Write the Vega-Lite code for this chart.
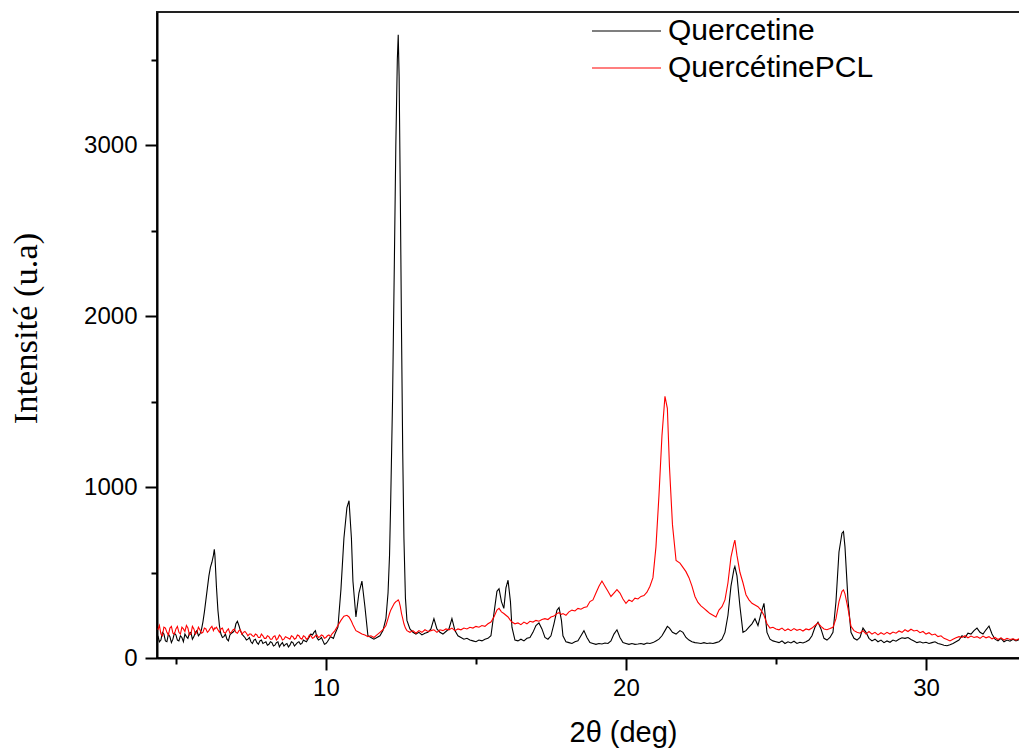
{
"$schema": "https://vega.github.io/schema/vega-lite/v6.json",
"width": 865, "height": 646,
"autosize": {"type": "none"},
"padding": {"left": 157, "top": 12, "right": 0, "bottom": 95},
"background": "white",
"config": {"view": {"stroke": "#222", "strokeWidth": 2}, "font": "Liberation Sans"},
"data": {"values": [
{"x":4.4,"a":130,"b":165},{"x":4.45,"a":95,"b":190},{"x":4.5,"a":105,"b":140},{"x":4.55,"a":150,"b":130},{"x":4.6,"a":140,"b":180},{"x":4.65,"a":100,"b":175},{"x":4.7,"a":95,"b":150},{"x":4.75,"a":140,"b":135},{"x":4.8,"a":125,"b":175},{"x":4.85,"a":90,"b":185},{"x":4.9,"a":110,"b":145},{"x":4.95,"a":145,"b":140},
{"x":5.0,"a":135,"b":170},{"x":5.05,"a":105,"b":185},{"x":5.1,"a":100,"b":150},{"x":5.15,"a":130,"b":140},{"x":5.2,"a":120,"b":180},{"x":5.25,"a":95,"b":170},{"x":5.3,"a":140,"b":155},{"x":5.35,"a":125,"b":190},{"x":5.4,"a":115,"b":175},{"x":5.45,"a":145,"b":135},{"x":5.5,"a":150,"b":140},{"x":5.55,"a":110,"b":185},
{"x":5.6,"a":125,"b":170},{"x":5.65,"a":150,"b":140},{"x":5.7,"a":160,"b":150},{"x":5.75,"a":130,"b":180},{"x":5.8,"a":140,"b":165},{"x":5.85,"a":165,"b":145},{"x":5.9,"a":210,"b":150},{"x":5.95,"a":270,"b":175},{"x":6.0,"a":340,"b":170},{"x":6.05,"a":410,"b":150},{"x":6.1,"a":480,"b":160},{"x":6.15,"a":530,"b":175},
{"x":6.2,"a":560,"b":185},{"x":6.25,"a":600,"b":160},{"x":6.28,"a":635,"b":175},{"x":6.3,"a":600,"b":170},{"x":6.35,"a":420,"b":180},{"x":6.4,"a":280,"b":165},{"x":6.45,"a":190,"b":150},{"x":6.5,"a":140,"b":170},{"x":6.55,"a":120,"b":175},{"x":6.6,"a":125,"b":150},{"x":6.65,"a":140,"b":145},
{"x":6.7,"a":110,"b":160},{"x":6.75,"a":100,"b":170},{"x":6.8,"a":135,"b":145},{"x":6.85,"a":145,"b":150},{"x":6.9,"a":150,"b":165},{"x":6.95,"a":160,"b":170},{"x":7.0,"a":200,"b":150},{"x":7.05,"a":215,"b":145},{"x":7.1,"a":190,"b":160},{"x":7.15,"a":160,"b":165},{"x":7.2,"a":140,"b":140},{"x":7.25,"a":130,"b":150},
{"x":7.3,"a":120,"b":155},{"x":7.35,"a":105,"b":145},{"x":7.4,"a":110,"b":130},{"x":7.45,"a":120,"b":140},{"x":7.5,"a":95,"b":140},{"x":7.55,"a":85,"b":130},{"x":7.6,"a":105,"b":125},{"x":7.65,"a":110,"b":140},{"x":7.7,"a":90,"b":135},{"x":7.75,"a":80,"b":120},{"x":7.8,"a":100,"b":120},{"x":7.85,"a":105,"b":140},
{"x":7.9,"a":85,"b":130},{"x":7.95,"a":90,"b":115},{"x":8.0,"a":95,"b":115},{"x":8.05,"a":75,"b":130},{"x":8.1,"a":80,"b":125},{"x":8.15,"a":95,"b":110},{"x":8.2,"a":90,"b":110},{"x":8.25,"a":70,"b":125},{"x":8.3,"a":75,"b":130},{"x":8.35,"a":90,"b":105},{"x":8.4,"a":95,"b":115},{"x":8.45,"a":65,"b":135},
{"x":8.5,"a":80,"b":125},{"x":8.55,"a":90,"b":105},{"x":8.6,"a":70,"b":110},{"x":8.65,"a":80,"b":125},{"x":8.7,"a":85,"b":120},{"x":8.75,"a":65,"b":115},{"x":8.8,"a":75,"b":110},{"x":8.85,"a":95,"b":130},{"x":8.9,"a":90,"b":125},{"x":8.95,"a":70,"b":110},{"x":9.0,"a":80,"b":115},{"x":9.05,"a":90,"b":135},
{"x":9.1,"a":95,"b":130},{"x":9.15,"a":80,"b":115},{"x":9.2,"a":85,"b":110},{"x":9.25,"a":105,"b":130},{"x":9.3,"a":100,"b":125},{"x":9.35,"a":95,"b":110},{"x":9.4,"a":110,"b":115},{"x":9.45,"a":125,"b":135},{"x":9.5,"a":140,"b":130},{"x":9.55,"a":135,"b":115},{"x":9.6,"a":150,"b":120},{"x":9.65,"a":160,"b":130},
{"x":9.7,"a":120,"b":135},{"x":9.75,"a":105,"b":120},{"x":9.8,"a":110,"b":125},{"x":9.85,"a":120,"b":135},{"x":9.9,"a":100,"b":130},{"x":9.95,"a":80,"b":115},{"x":10.0,"a":85,"b":120},{"x":10.05,"a":95,"b":130},{"x":10.1,"a":110,"b":135},{"x":10.15,"a":125,"b":125},{"x":10.2,"a":120,"b":140},{"x":10.25,"a":115,"b":150},
{"x":10.3,"a":140,"b":160},{"x":10.4,"a":180,"b":190},{"x":10.5,"a":400,"b":220},{"x":10.6,"a":700,"b":245},{"x":10.7,"a":880,"b":250},{"x":10.77,"a":920,"b":240},
{"x":10.85,"a":700,"b":215},{"x":10.9,"a":450,"b":195},{"x":11.0,"a":240,"b":160},{"x":11.1,"a":380,"b":150},{"x":11.2,"a":450,"b":140},{"x":11.3,"a":300,"b":135},
{"x":11.4,"a":130,"b":125},{"x":11.5,"a":120,"b":130},{"x":11.6,"a":110,"b":120},{"x":11.7,"a":120,"b":135},{"x":11.8,"a":130,"b":150},{"x":11.9,"a":160,"b":165},
{"x":12.0,"a":230,"b":190},{"x":12.07,"a":380,"b":230},{"x":12.12,"a":600,"b":260},{"x":12.16,"a":924,"b":280},{"x":12.22,"a":1500,"b":300},{"x":12.28,"a":2300,"b":320},
{"x":12.33,"a":3000,"b":330},{"x":12.38,"a":3500,"b":335},{"x":12.41,"a":3645,"b":340},{"x":12.44,"a":3400,"b":330},{"x":12.48,"a":2700,"b":300},{"x":12.52,"a":1900,"b":260},
{"x":12.56,"a":1200,"b":230},{"x":12.6,"a":700,"b":200},{"x":12.65,"a":350,"b":175},{"x":12.7,"a":220,"b":160},{"x":12.8,"a":170,"b":150},{"x":12.9,"a":150,"b":160},
{"x":13.0,"a":140,"b":145},{"x":13.1,"a":150,"b":160},{"x":13.2,"a":135,"b":150},{"x":13.3,"a":145,"b":165},{"x":13.4,"a":150,"b":155},{"x":13.5,"a":170,"b":160},
{"x":13.6,"a":230,"b":165},{"x":13.7,"a":170,"b":150},{"x":13.8,"a":150,"b":165},{"x":13.9,"a":140,"b":160},{"x":14.0,"a":155,"b":170},{"x":14.1,"a":170,"b":165},
{"x":14.2,"a":230,"b":175},{"x":14.3,"a":160,"b":160},{"x":14.4,"a":130,"b":170},{"x":14.5,"a":120,"b":165},{"x":14.6,"a":110,"b":175},{"x":14.7,"a":115,"b":170},
{"x":14.8,"a":105,"b":180},{"x":14.9,"a":100,"b":175},{"x":15.0,"a":95,"b":185},{"x":15.1,"a":105,"b":180},{"x":15.2,"a":100,"b":190},{"x":15.3,"a":110,"b":185},
{"x":15.4,"a":115,"b":200},{"x":15.5,"a":130,"b":210},{"x":15.6,"a":260,"b":240},{"x":15.7,"a":390,"b":280},{"x":15.77,"a":405,"b":290},{"x":15.85,"a":330,"b":270},
{"x":15.93,"a":290,"b":260},{"x":16.0,"a":410,"b":250},{"x":16.07,"a":455,"b":240},{"x":16.15,"a":330,"b":220},{"x":16.2,"a":180,"b":210},{"x":16.3,"a":105,"b":200},
{"x":16.4,"a":100,"b":205},{"x":16.5,"a":110,"b":195},{"x":16.6,"a":100,"b":210},{"x":16.7,"a":115,"b":200},{"x":16.8,"a":120,"b":215},{"x":16.9,"a":150,"b":210},
{"x":17.0,"a":190,"b":220},{"x":17.1,"a":205,"b":215},{"x":17.2,"a":170,"b":225},{"x":17.3,"a":120,"b":230},{"x":17.4,"a":110,"b":225},{"x":17.5,"a":130,"b":240},
{"x":17.6,"a":200,"b":245},{"x":17.7,"a":280,"b":260},{"x":17.77,"a":295,"b":265},{"x":17.85,"a":220,"b":255},{"x":17.9,"a":130,"b":260},{"x":18.0,"a":95,"b":250},
{"x":18.1,"a":90,"b":270},{"x":18.2,"a":85,"b":280},{"x":18.3,"a":95,"b":275},{"x":18.4,"a":100,"b":290},{"x":18.5,"a":130,"b":285},{"x":18.6,"a":160,"b":295},
{"x":18.7,"a":120,"b":300},{"x":18.8,"a":90,"b":330},{"x":18.9,"a":85,"b":340},{"x":19.0,"a":80,"b":380},{"x":19.1,"a":85,"b":420},{"x":19.2,"a":82,"b":450},
{"x":19.3,"a":88,"b":420},{"x":19.4,"a":85,"b":390},{"x":19.5,"a":100,"b":360},{"x":19.6,"a":140,"b":380},{"x":19.7,"a":165,"b":400},{"x":19.8,"a":120,"b":380},
{"x":19.9,"a":90,"b":345},{"x":20.0,"a":85,"b":320},{"x":20.1,"a":80,"b":340},{"x":20.2,"a":85,"b":330},{"x":20.3,"a":80,"b":350},{"x":20.4,"a":82,"b":345},
{"x":20.5,"a":85,"b":360},{"x":20.6,"a":80,"b":365},{"x":20.7,"a":88,"b":385},{"x":20.8,"a":85,"b":420},{"x":20.9,"a":90,"b":470},{"x":21.0,"a":100,"b":650},
{"x":21.1,"a":110,"b":950},{"x":21.2,"a":130,"b":1300},{"x":21.3,"a":160,"b":1530},{"x":21.38,"a":185,"b":1460},{"x":21.45,"a":175,"b":1120},{"x":21.55,"a":150,"b":780},
{"x":21.67,"a":140,"b":570},{"x":21.8,"a":160,"b":555},{"x":21.9,"a":150,"b":530},{"x":22.0,"a":120,"b":505},{"x":22.1,"a":105,"b":470},{"x":22.2,"a":95,"b":420},
{"x":22.3,"a":90,"b":360},{"x":22.4,"a":88,"b":325},{"x":22.5,"a":85,"b":305},{"x":22.6,"a":90,"b":290},{"x":22.7,"a":85,"b":275},{"x":22.8,"a":88,"b":260},
{"x":22.9,"a":85,"b":250},{"x":23.0,"a":90,"b":240},{"x":23.1,"a":95,"b":280},{"x":23.2,"a":110,"b":300},{"x":23.3,"a":150,"b":340},{"x":23.4,"a":250,"b":440},
{"x":23.5,"a":420,"b":590},{"x":23.6,"a":520,"b":670},{"x":23.63,"a":535,"b":690},{"x":23.7,"a":480,"b":600},{"x":23.8,"a":300,"b":500},{"x":23.9,"a":150,"b":440},
{"x":24.0,"a":160,"b":370},{"x":24.1,"a":180,"b":340},{"x":24.2,"a":200,"b":320},{"x":24.3,"a":230,"b":310},{"x":24.4,"a":190,"b":300},{"x":24.5,"a":260,"b":280},
{"x":24.6,"a":320,"b":250},{"x":24.7,"a":150,"b":200},{"x":24.8,"a":110,"b":175},{"x":24.9,"a":100,"b":180},{"x":25.0,"a":95,"b":170},
{"x":25.1,"a":90,"b":165},{"x":25.2,"a":100,"b":175},{"x":25.3,"a":85,"b":160},{"x":25.4,"a":95,"b":170},{"x":25.5,"a":88,"b":160},{"x":25.6,"a":98,"b":172},
{"x":25.7,"a":85,"b":162},{"x":25.8,"a":92,"b":168},{"x":25.9,"a":88,"b":158},{"x":26.0,"a":95,"b":170},{"x":26.1,"a":105,"b":165},{"x":26.2,"a":130,"b":175},
{"x":26.3,"a":180,"b":190},{"x":26.4,"a":210,"b":205},{"x":26.5,"a":170,"b":185},{"x":26.6,"a":115,"b":170},{"x":26.7,"a":105,"b":165},{"x":26.8,"a":120,"b":172},
{"x":26.9,"a":150,"b":180},{"x":27.0,"a":330,"b":230},{"x":27.1,"a":620,"b":330},{"x":27.2,"a":730,"b":390},{"x":27.25,"a":740,"b":398},{"x":27.3,"a":650,"b":375},
{"x":27.4,"a":340,"b":290},{"x":27.5,"a":150,"b":185},{"x":27.6,"a":115,"b":160},{"x":27.7,"a":105,"b":150},{"x":27.8,"a":120,"b":145},{"x":27.9,"a":175,"b":160},
{"x":28.0,"a":150,"b":140},{"x":28.1,"a":115,"b":155},{"x":28.2,"a":100,"b":140},{"x":28.3,"a":110,"b":150},{"x":28.4,"a":95,"b":135},{"x":28.5,"a":105,"b":148},
{"x":28.6,"a":90,"b":138},{"x":28.7,"a":100,"b":150},{"x":28.8,"a":92,"b":140},{"x":28.9,"a":105,"b":152},{"x":29.0,"a":98,"b":145},{"x":29.1,"a":110,"b":158},
{"x":29.2,"a":118,"b":150},{"x":29.3,"a":115,"b":165},{"x":29.4,"a":120,"b":155},{"x":29.5,"a":108,"b":168},{"x":29.6,"a":100,"b":158},{"x":29.7,"a":90,"b":162},
{"x":29.8,"a":95,"b":148},{"x":29.9,"a":88,"b":155},{"x":30.0,"a":92,"b":140},{"x":30.1,"a":85,"b":148},{"x":30.2,"a":90,"b":135},{"x":30.3,"a":95,"b":140},
{"x":30.4,"a":85,"b":125},{"x":30.5,"a":80,"b":130},{"x":30.6,"a":75,"b":115},{"x":30.7,"a":72,"b":108},{"x":30.8,"a":78,"b":100},{"x":30.9,"a":85,"b":110},
{"x":31.0,"a":95,"b":118},{"x":31.1,"a":105,"b":125},{"x":31.2,"a":130,"b":120},{"x":31.3,"a":120,"b":130},{"x":31.4,"a":145,"b":118},{"x":31.5,"a":140,"b":128},
{"x":31.6,"a":160,"b":120},{"x":31.7,"a":175,"b":125},{"x":31.8,"a":150,"b":115},{"x":31.9,"a":140,"b":128},{"x":32.0,"a":165,"b":118},{"x":32.1,"a":187,"b":125},
{"x":32.2,"a":140,"b":112},{"x":32.3,"a":110,"b":120},{"x":32.4,"a":100,"b":108},{"x":32.5,"a":115,"b":118},{"x":32.6,"a":95,"b":105},{"x":32.7,"a":105,"b":115},
{"x":32.8,"a":98,"b":108},{"x":32.9,"a":110,"b":112},{"x":33.0,"a":100,"b":105},{"x":33.1,"a":108,"b":112},{"x":33.2,"a":102,"b":108}
]},
"transform": [{"fold": ["a", "b"], "as": ["serie", "y"]}],
"mark": {"type": "line", "strokeWidth": 1.1, "clip": true},
"encoding": {
  "x": {"field": "x", "type": "quantitative",
    "scale": {"domain": [4.37, 33.2], "nice": false, "zero": false},
    "axis": {"values": [5, 10, 15, 20, 25, 30], "title": "2θ (deg)", "grid": false,
      "domainColor": "#000", "domainWidth": 2, "tickColor": "#000", "tickWidth": 2,
      "tickSize": {"condition": {"test": "datum.value % 10 === 0", "value": 12}, "value": 6},
      "labelExpr": "datum.value % 10 === 0 ? datum.label : ''",
      "labelFontSize": 24, "labelColor": "#000", "labelPadding": 6, "labelFont": "Liberation Sans",
      "labelFlush": false, "labelOverlap": false,
      "titleFont": "Liberation Sans", "titleFontSize": 29, "titleFontWeight": "normal", "titleColor": "#000", "titlePadding": 18, "titleX": 466}},
  "y": {"field": "y", "type": "quantitative",
    "scale": {"domain": [0, 3778], "nice": false},
    "axis": {"values": [0, 500, 1000, 1500, 2000, 2500, 3000, 3500], "title": "Intensité (u.a)", "grid": false,
      "domainColor": "#000", "domainWidth": 2, "tickColor": "#000", "tickWidth": 2,
      "tickSize": {"condition": {"test": "datum.value % 1000 === 0", "value": 12}, "value": 6},
      "labelExpr": "datum.value % 1000 === 0 ? datum.label : ''",
      "labelFontSize": 24, "labelColor": "#000", "labelPadding": 8, "labelFont": "Liberation Sans",
      "labelFlush": false, "labelOverlap": false, "format": "d",
      "titleFont": "Liberation Serif", "titleFontSize": 34.5, "titleFontWeight": "normal", "titleColor": "#000", "titlePadding": 40, "titleY": 316}},
  "color": {"field": "serie", "type": "nominal",
    "scale": {"domain": ["a", "b"], "range": ["#000000", "#ff0000"]},
    "legend": {"orient": "none", "legendX": 454.5, "legendY": 4, "title": null, "symbolType": "M-6.9,0H6.9",
      "symbolSize": 100, "symbolStrokeWidth": 1.2, "labelFontSize": 30, "labelFont": "Liberation Sans",
      "labelColor": "#000", "labelOffset": 26.5, "labelLimit": 400, "rowPadding": 7, "padding": 0,
      "labelExpr": "datum.value === 'a' ? 'Quercetine' : 'QuercétinePCL'"}}
}
}
